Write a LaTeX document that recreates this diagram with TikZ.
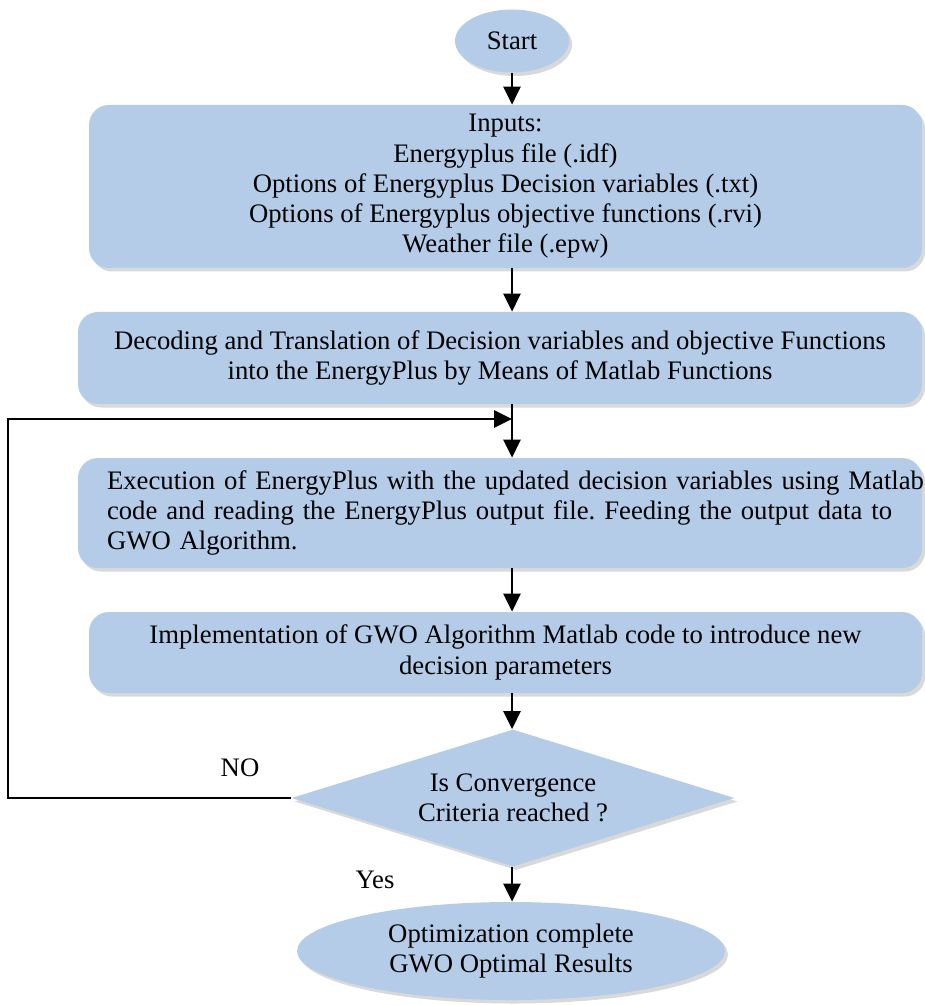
\documentclass[tikz,border=0pt]{standalone}
\usepackage{fontspec}
\setmainfont{Liberation Serif}
\usepackage{xcolor}
\usepackage{tikz}
\usetikzlibrary{shapes,shapes.geometric,arrows.meta,shadows}
\definecolor{boxblue}{HTML}{B4CCE8}
\frenchspacing
\newcommand{\chartfont}{\fontsize{15.2}{17.2}\selectfont}
\tikzstyle{shade} = [drop shadow={opacity=0.3, shadow xshift=0.06cm, shadow yshift=-0.07cm}]
\tikzstyle{stepbox} = [draw=none, fill=boxblue, shade, rounded corners=0.4cm, align=center, font=\chartfont]
\tikzstyle{terminal} = [ellipse, draw=none, fill=boxblue, shade, align=center, inner sep=0pt, font=\chartfont]
\tikzstyle{decision} = [diamond, draw=none, fill=boxblue, shade, align=center, inner sep=0pt, font=\chartfont]
\tikzstyle{arrow} = [draw, -{Triangle[length=0.36cm, width=0.34cm]}, line width=1.6pt]
\tikzstyle{link} = [draw, line width=1.6pt]

\begin{document}
\begin{tikzpicture}
\useasboundingbox (0,0) rectangle (18.48,-20.1);

\node[terminal, minimum width=2.28cm, minimum height=1.26cm] at (10.24, -0.82) (start) {Start};

\node[stepbox, minimum width=16.66cm, minimum height=3.26cm] at (10.11, -3.73) (inputs) {Inputs:\\
Energyplus file (.idf)\\
Options of Energyplus Decision variables (.txt)\\
Options of Energyplus objective functions (.rvi)\\
Weather file (.epw)};

\node[stepbox, minimum width=16.88cm, minimum height=1.84cm] at (10.0, -7.16) (decode) {Decoding and Translation of Decision variables and objective Functions\\
into the EnergyPlus by Means of Matlab Functions};

\node[stepbox, minimum width=16.88cm, minimum height=2.2cm, text width=15.72cm, inner xsep=0.58cm, align=left] at (10.0, -10.26) (exec) {\mbox{Execution of EnergyPlus with the updated decision variables using Matlab}\\
\mbox{code and reading the EnergyPlus output file. Feeding the output data to}\\
GWO Algorithm.};

\node[stepbox, minimum width=16.66cm, minimum height=1.62cm] at (10.11, -13.05) (impl) {Implementation of GWO Algorithm Matlab code to introduce new\\
decision parameters};

\node[decision, minimum width=8.86cm, minimum height=2.74cm, aspect=3.2] at (10.26, -15.96) (conv) {Is Convergence\\ Criteria reached ?};

\node[terminal, minimum width=8.56cm, minimum height=1.96cm] at (10.22, -19.02) (done) {Optimization complete\\ GWO Optimal Results};

\coordinate (merge) at (10.24, -8.38);
\coordinate (loopleft) at (0.16, -15.96);

% main flow
\path[arrow] (start) -- (start |- inputs.north);
\path[arrow] (inputs.south -| start) -- (decode.north -| start);
\path[link] (decode.south -| start) -- (merge);
\path[arrow] (merge) -- (exec.north -| start);
\path[arrow] (exec.south -| start) -- (impl.north -| start);
\path[arrow] (impl.south -| start) -- (conv.north -| start);
\path[arrow] (conv.south -| start) -- (done.north -| start);

% loop back
\path[arrow] (conv.west) -- (loopleft) |- (merge);

\node[font=\chartfont] at (4.8, -15.36) (nolabel) {NO};
\node[font=\chartfont] at (7.5, -17.6) (yeslabel) {Yes};
\end{tikzpicture}
\end{document}
